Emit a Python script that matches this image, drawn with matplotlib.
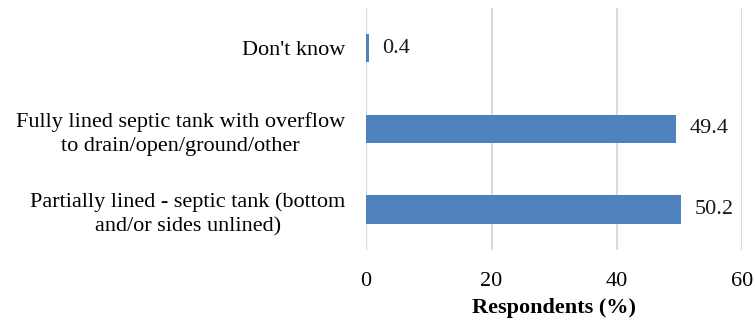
import matplotlib

matplotlib.use("Agg")
import matplotlib.pyplot as plt

# 응답 데이터 (%)
categories = [
    "Partially lined - septic tank (bottom\nand/or sides unlined)",
    "Fully lined septic tank with overflow\nto drain/open/ground/other",
    "Don't know",
]
values = [50.2, 49.4, 0.4]
x_ticks = [0, 20, 40, 60]

plt.rcParams["font.family"] = ["Liberation Serif", "DejaVu Serif"]
FS = 16

fig = plt.figure(figsize=(7.55, 3.22), dpi=100)
ax = fig.add_axes([0.485, 0.224, 0.498, 0.751])

pos = list(range(len(categories)))
ax.barh(pos, values, height=0.35, color="#4F81BD", linewidth=0, zorder=3)

for y, v in zip(pos, values):
    ax.annotate(f"{v:.1f}", xy=(v, y), xytext=(10, 0), textcoords="offset points",
                ha="left", va="center", fontsize=FS, color="#1a1a1a")

ax.set_xlim(0, 60)
ax.set_ylim(-0.5, len(categories) - 0.5)
ax.set_xticks(x_ticks)
ax.set_yticks(pos)
ax.set_yticklabels(categories, fontsize=FS, multialignment="center", linespacing=1.35)
ax.tick_params(axis="x", length=0, labelsize=FS, pad=16)
ax.tick_params(axis="y", length=0, pad=15)

ax.grid(axis="x", color="#D9D9D9", linewidth=1.5, zorder=0)
for s in ax.spines.values():
    s.set_visible(False)

ax.set_xlabel("Respondents (%)", fontsize=FS, fontweight="bold", labelpad=5)

fig.savefig("out.png", dpi=100)
plt.close()
